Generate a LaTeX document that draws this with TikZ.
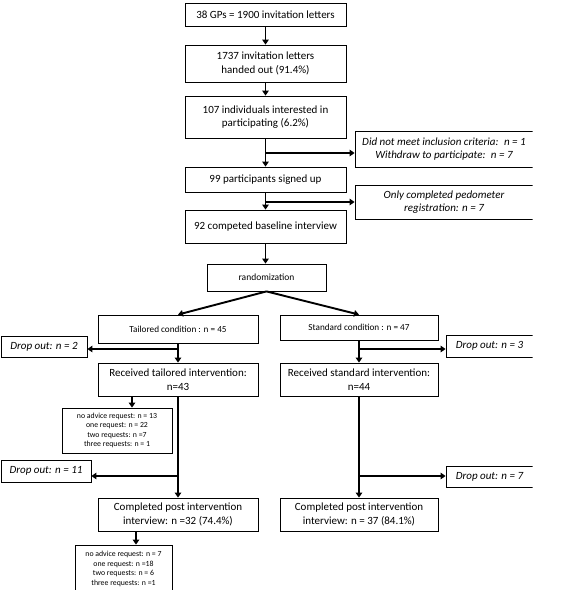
\documentclass[tikz,border=0pt]{standalone}
\usepackage{fontspec}
\setmainfont{Carlito}
\usetikzlibrary{arrows.meta,calc}
\begin{document}
\begin{tikzpicture}[x=1pt,y=-1pt,
  box/.style={draw,line width=0.8pt,inner sep=0pt,align=center,font=\fontsize{11}{13.5}\selectfont},
  itbox/.style={box,font=\fontsize{11}{13.5}\selectfont\itshape},
  cond/.style={box,font=\fontsize{9.2}{11}\selectfont},
  advbox/.style={box,font=\fontsize{7.8}{9.6}\selectfont},
  arr/.style={line width=1.9pt,-{Triangle[length=5pt,width=6.5pt]}}]
\useasboundingbox (0,0) rectangle (582,594);
\begin{scope}
\clip (-1,-1) rectangle (532.6,589.2);
% main column
\node[box,minimum width=161,minimum height=23] (b1) at (265.5,14.5) {38 GPs = 1900 invitation letters};
\node[box,minimum width=161,minimum height=37] (b2) at (265.5,63.5) {1737 invitation letters\\handed out (91.4\%)};
\node[box,minimum width=161,minimum height=42] (b3) at (265.5,117) {107 individuals interested in\\participating (6.2\%)};
\node[box,minimum width=161,minimum height=25] (b4) at (265.5,179.5) {99 participants signed up};
\node[box,minimum width=161,minimum height=33] (b5) at (265.5,226.5) {92 competed baseline interview};
\node[itbox,minimum width=178,minimum height=36] (ex1) at (444,149) {Did not meet inclusion criteria:\enspace n = 1\\Withdraw to participate:\enspace n = 7};
\node[itbox,minimum width=178,minimum height=34] (ex2) at (444,202) {Only completed pedometer\\registration: n = 7};
\node[box,font=\fontsize{9.5}{11}\selectfont,minimum width=119,minimum height=27] (rand) at (266.5,277.5) {randomization};
% arms
\node[cond,minimum width=160,minimum height=28] (tail) at (178,329) {Tailored condition : n = 45};
\node[cond,minimum width=158,minimum height=25] (stand) at (359,327.5) {Standard condition : n = 47};
\node[itbox,minimum width=86,minimum height=21] (d2) at (44,346.5) {Drop out: n = 2};
\node[itbox,minimum width=87,minimum height=22] (d3) at (489.5,346) {Drop out: n = 3};
\node[box,minimum width=160,minimum height=33] (rt) at (178,379.5) {Received tailored intervention:\\n=43};
\node[box,minimum width=158,minimum height=33] (rs) at (359,379.5) {Received standard intervention:\\n=44};
\node[advbox,minimum width=110,minimum height=45] (adv1) at (117,430.5) {no advice request: n = 13\\one request: n = 22\\two requests: n =7\\three requests: n = 1};
\node[itbox,minimum width=90,minimum height=22] (d11) at (46,471) {Drop out: n = 11};
\node[itbox,minimum width=87,minimum height=21] (d7) at (489.5,476.5) {Drop out: n = 7};
\node[box,minimum width=160,minimum height=33] (ct) at (178,514.5) {Completed post intervention\\interview: n =32 (74.4\%)};
\node[box,minimum width=158,minimum height=33] (cs) at (359,514.5) {Completed post intervention\\interview: n = 37 (84.1\%)};
\node[advbox,minimum width=97,minimum height=48] (adv2) at (123.5,569) {no advice request: n = 7\\one request: n =18\\two requests: n = 6\\three requests: n =1};
% connectors
\draw[arr] (b1.south) -- (b2.north);
\draw[arr] (b2.south) -- (b3.north);
\draw[arr] (b3.south) -- (b4.north);
\coordinate (j1) at (b3.south |- 0,153);
\draw[arr] (j1) -- (j1 -| ex1.west);
\draw[arr] (b4.south) -- (b5.north);
\coordinate (j2) at (b4.south |- 0,202);
\draw[arr] (j2) -- (j2 -| ex2.west);
\draw[arr] (b5.south) -- (b5.south |- rand.north);
\draw[arr] (rand.south) -- (tail.north);
\draw[arr] (rand.south) -- (stand.north);
\draw[arr] (tail.south) -- (rt.north);
\coordinate (j3) at (tail.south |- 0,349);
\draw[arr] (j3) -- (j3 -| d2.east);
\draw[arr] (stand.south) -- (rs.north);
\coordinate (j4) at (stand.south |- 0,349);
\draw[arr] (j4) -- (j4 -| d3.west);
\coordinate (a1) at ($(adv1.north)+(15,0)$);
\draw[arr] (rt.south -| a1) -- (a1);
\draw[arr] (rt.south) -- (ct.north);
\coordinate (j5) at (rt.south |- 0,476);
\draw[arr] (j5) -- (j5 -| d11.east);
\draw[arr] (rs.south) -- (cs.north);
\coordinate (j6) at (rs.south |- 0,476);
\draw[arr] (j6) -- (j6 -| d7.west);
\coordinate (a2) at ($(adv2.north)+(12.5,0)$);
\draw[arr] (ct.south -| a2) -- (a2);
\end{scope}
\end{tikzpicture}
\end{document}
